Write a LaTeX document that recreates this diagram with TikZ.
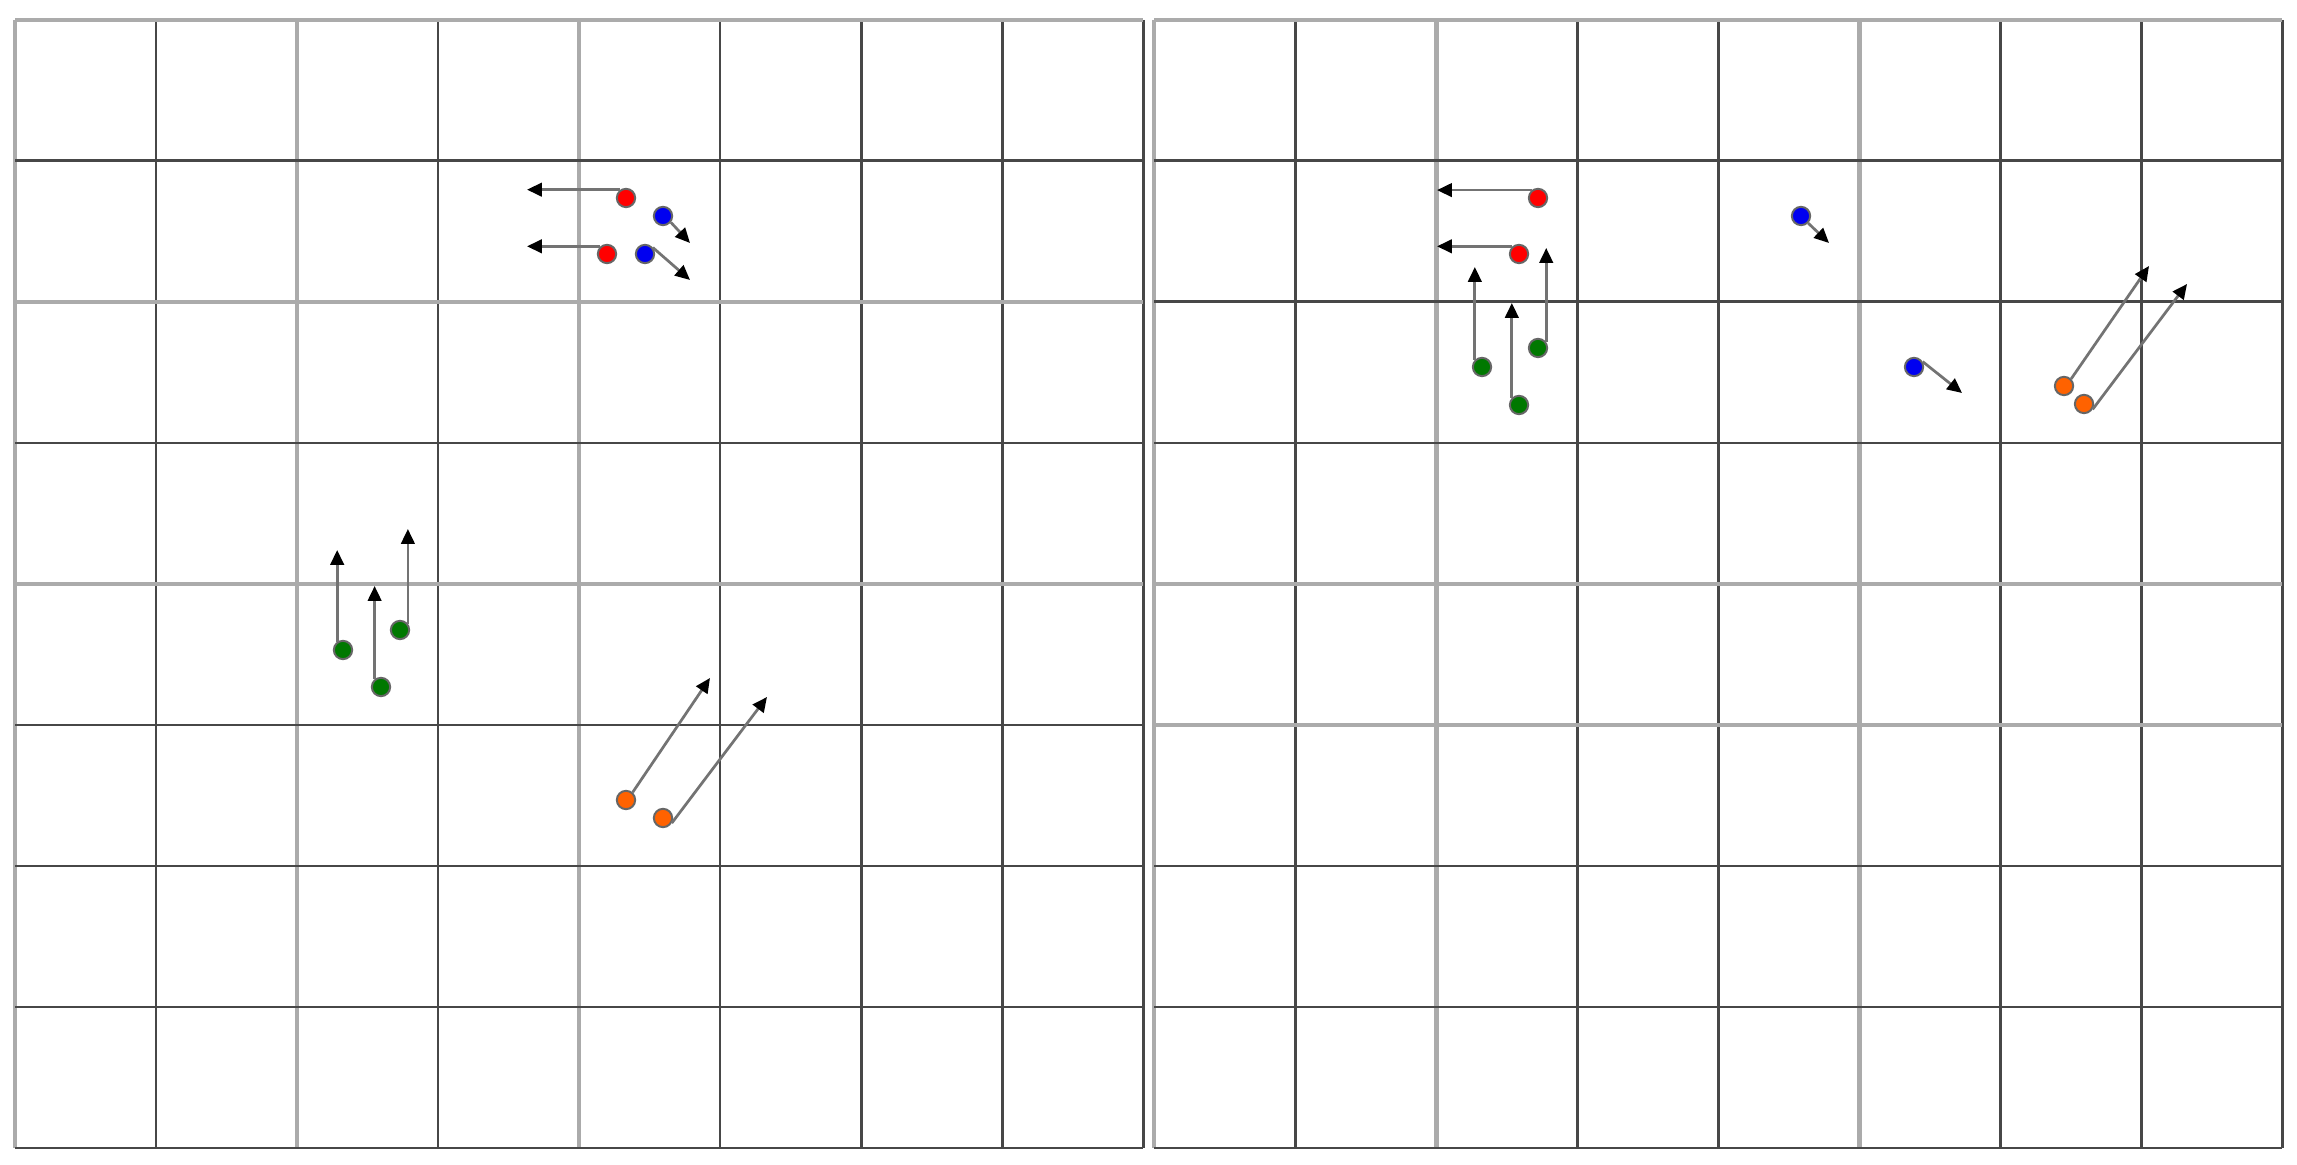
\documentclass[tikz,border=0pt]{standalone}
\usetikzlibrary{arrows.meta}
\definecolor{dred}{HTML}{FF0000}
\definecolor{dblue}{HTML}{0000F0}
\definecolor{dgreen}{HTML}{007800}
\definecolor{dorange}{HTML}{FF6200}
\begin{document}
\begin{tikzpicture}[x=0.0070922cm, y=-0.0070922cm,
  gl/.style={line width=0.6pt, draw=black!72},
  glg/.style={line width=1.0pt, draw=black!33},
  dot/.style={circle, inner sep=0pt, minimum size=0.13cm, draw=black!60, line width=0.4pt},
  vec/.style={draw=black!55, line width=0.55pt, -{Triangle[length=0.105cm,width=0.095cm,color=black]}}]
\useasboundingbox[fill=white] (0,0) rectangle (2297,1165);
% left panel grid
\foreach \i/\s in {0/glg,1/gl,2/glg,3/gl,4/glg,5/gl,6/gl,7/gl,8/gl}
  \draw[\s] ({15+141*\i},20) -- ({15+141*\i},1148);
\foreach \j/\s in {0/glg,1/gl,2/glg,3/gl,4/glg,5/gl,6/gl,7/gl,8/gl}
  \draw[\s] (15,{20+141*\j}) -- (1143,{20+141*\j});
% right panel grid
\foreach \i/\s in {0/glg,1/gl,2/glg,3/gl,4/gl,5/glg,6/gl,7/gl,8/gl}
  \draw[\s] ({1154+141*\i},20) -- ({1154+141*\i},1148);
\foreach \j/\s in {0/glg,1/gl,2/gl,3/gl,4/glg,5/glg,6/gl,7/gl,8/gl}
  \draw[\s] (1154,{20+141*\j}) -- (2282,{20+141*\j});
% left panel dots
\node[dot, fill=dred] (r1) at (626,198) {};
\node[dot, fill=dred] (r2) at (607,254) {};
\node[dot, fill=dblue] (b1) at (663,216) {};
\node[dot, fill=dblue] (b2) at (645,254) {};
\node[dot, fill=dgreen] (g1) at (343,650) {};
\node[dot, fill=dgreen] (g2) at (381,687) {};
\node[dot, fill=dgreen] (g3) at (400,630) {};
\node[dot, fill=dorange] (o1) at (626,800) {};
\node[dot, fill=dorange] (o2) at (663,818) {};
% right panel dots
\node[dot, fill=dred] (r3) at (1538,198) {};
\node[dot, fill=dred] (r4) at (1519,254) {};
\node[dot, fill=dgreen] (g4) at (1482,367) {};
\node[dot, fill=dgreen] (g5) at (1519,405) {};
\node[dot, fill=dgreen] (g6) at (1538,348) {};
\node[dot, fill=dblue] (b3) at (1801,216) {};
\node[dot, fill=dblue] (b4) at (1914,367) {};
\node[dot, fill=dorange] (o3) at (2064,386) {};
\node[dot, fill=dorange] (o4) at (2084,404) {};
% tips
\coordinate (tr1) at (527,190);
\coordinate (tr2) at (527,247);
\coordinate (tb1) at (690,243);
\coordinate (tb2) at (690,280);
\coordinate (tg1) at (337,550);
\coordinate (tg2) at (374,586);
\coordinate (tg3) at (410,529);
\coordinate (to1) at (710,678);
\coordinate (to2) at (767,697);
\coordinate (tr3) at (1437,190);
\coordinate (tr4) at (1437,247);
\coordinate (tg4) at (1475,267);
\coordinate (tg5) at (1512,303);
\coordinate (tg6) at (1545,248);
\coordinate (tb3) at (1829,243);
\coordinate (tb4) at (1962,393);
\coordinate (to3) at (2149,266);
\coordinate (to4) at (2187,284);
% vectors
\draw[vec] (r1.125) -- (r1.125 -| tr1);
\draw[vec] (r2.131) -- (r2.131 -| tr2);
\draw[vec] (b1.-39) -- (tb1);
\draw[vec] (b2.39) -- (tb2);
\draw[vec] (g1.125) -- (g1.125 |- tg1);
\draw[vec] (g2.129) -- (g2.129 |- tg2);
\draw[vec] (g3.39) -- (g3.39 |- tg3);
\draw[vec] (o1.49) -- (to1);
\draw[vec] (o2.-30) -- (to2);
\draw[vec] (r3.129) -- (r3.129 -| tr3);
\draw[vec] (r4.131) -- (r4.131 -| tr4);
\draw[vec] (g4.135) -- (g4.135 |- tg4);
\draw[vec] (g5.135) -- (g5.135 |- tg5);
\draw[vec] (g6.36) -- (g6.36 |- tg6);
\draw[vec] (b3.-45) -- (tb3);
\draw[vec] (b4.32) -- (tb4);
\draw[vec] (o3.45) -- (to3);
\draw[vec] (o4.-32) -- (to4);
\end{tikzpicture}
\end{document}
